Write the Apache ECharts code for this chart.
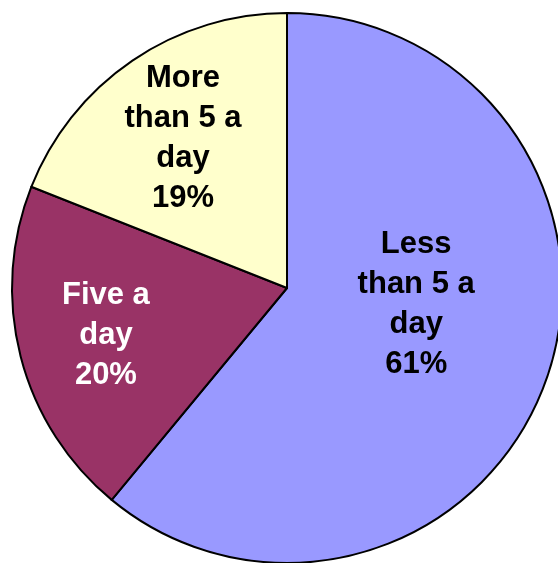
<!DOCTYPE html>
<html>
<head>
<meta charset="utf-8">
<style>
  html, body { margin: 0; padding: 0; background: #ffffff; }
  #chart { width: 558px; height: 563px; }
</style>
<script src="https://cdn.jsdelivr.net/npm/echarts@6/dist/echarts.min.js"></script>
</head>
<body>
<div id="chart"></div>
<script>
// Share of people by daily fruit & vegetable portions
const categories = ['Less than 5 a day', 'Five a day', 'More than 5 a day'];
const labelLines = ['Less\nthan 5 a\nday', 'Five a\nday', 'More\nthan 5 a\nday'];
const shares = [61, 20, 19];

const sliceColors = ['#9999FF', '#993366', '#FFFFCC'];
const textColors = ['#000000', '#ffffff', '#000000'];
const labelOffsets = [[-3, -31], [-45, 13], [-25, -33]];

const chart = echarts.init(document.getElementById('chart'), null, { renderer: 'canvas' });

chart.setOption({
  animation: false,
  backgroundColor: '#ffffff',
  series: [{
    type: 'pie',
    center: [287, 288],
    radius: [0, 275],
    startAngle: 90,
    clockwise: true,
    avoidLabelOverlap: false,
    emphasis: { disabled: true },
    itemStyle: { borderColor: '#000000', borderWidth: 2 },
    label: {
      show: true,
      position: 'inside',
      fontFamily: 'Liberation Sans, Arial, sans-serif',
      fontWeight: 'bold',
      fontSize: 31,
      lineHeight: 40,
      align: 'center'
    },
    labelLine: { show: false },
    data: categories.map((name, i) => ({
      name: name,
      value: shares[i],
      itemStyle: { color: sliceColors[i] },
      label: {
        color: textColors[i],
        offset: labelOffsets[i],
        formatter: labelLines[i] + '\n' + shares[i] + '%'
      }
    }))
  }]
});
</script>
</body>
</html>
